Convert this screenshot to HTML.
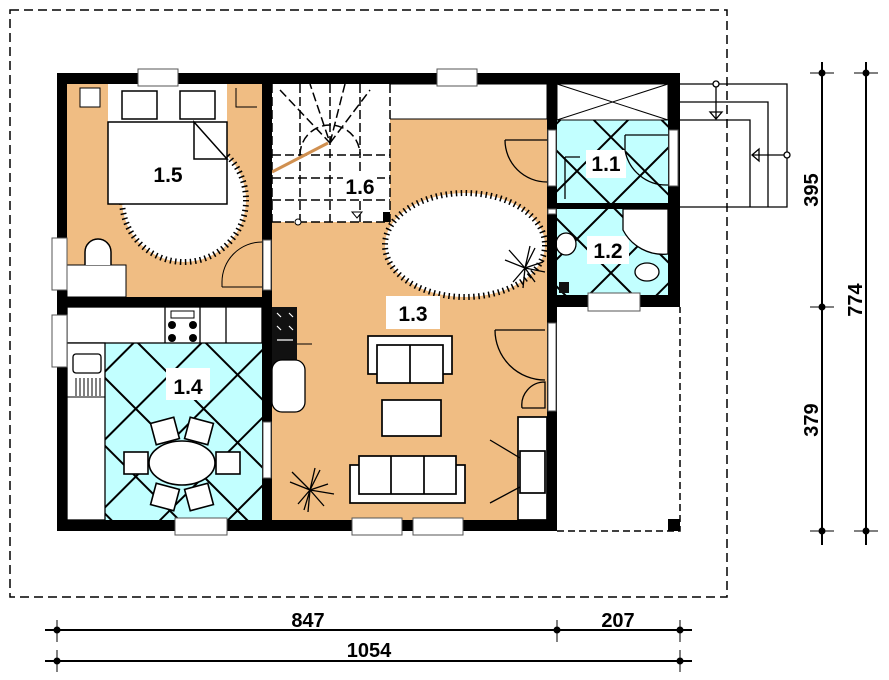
<!DOCTYPE html>
<html><head><meta charset="utf-8"><style>
html,body{margin:0;padding:0;background:#fff}
svg{display:block}
text{font-family:"Liberation Sans Narrow","Liberation Sans",sans-serif;font-weight:bold}
</style></head><body>
<svg width="889" height="680" viewBox="0 0 889 680" xmlns="http://www.w3.org/2000/svg">
<defs>
<pattern id="tile" patternUnits="userSpaceOnUse" width="48" height="48" patternTransform="rotate(45 0 0)">
<rect width="48" height="48" fill="#c2ffff"/>
<path d="M0 1H48M1 0V48" stroke="#000" stroke-width="2"/>
</pattern>
</defs>
<rect x="10" y="10" width="717" height="587" fill="none" stroke="#000" stroke-width="1.5" stroke-dasharray="9,5"/>
<rect x="67" y="84" width="195" height="213" fill="#f0bd83"/>
<rect x="272" y="84" width="275" height="437" fill="#f0bd83"/>
<rect x="272" y="84" width="275" height="35" fill="#fff" stroke="#000" stroke-width="1"/>
<rect x="272" y="84" width="118" height="138" fill="#fff"/>
<rect x="67" y="307" width="195" height="213" fill="#fff"/>
<rect x="105" y="343" width="157" height="177" fill="url(#tile)"/>
<rect x="557" y="120" width="111" height="83" fill="url(#tile)"/>
<rect x="557" y="209" width="111" height="86" fill="url(#tile)"/>
<rect x="557" y="84" width="111" height="36" fill="#fff" stroke="#000"/>
<path d="M557 84L668 120M668 84L557 120" stroke="#000"/>
<g stroke="#000" stroke-width="1.5" fill="none" stroke-dasharray="9,4">
<path d="M272 84V222M300 84V222M330 84V222M360 84V222M390 84V222"/>
<path d="M272 155H390M272 178H390M272 200H390M272 222H390"/>
<path d="M300 155A28 28 0 0 1 360 155"/>
<path d="M280 90L330 143L310 84M330 143L345 84M330 143L370 90"/>
</g>
<line x1="272" y1="172" x2="328" y2="143" stroke="#d09050" stroke-width="3"/>
<circle cx="298" cy="222" r="3" fill="#fff" stroke="#000"/>
<rect x="383" y="212" width="7" height="10" fill="#000"/>
<path d="M352 212h10l-5 6z" fill="none" stroke="#000"/>
<circle cx="184" cy="200" r="62" fill="#fff" stroke="#000" stroke-width="6" stroke-dasharray="1.5,3.5"/>
<circle cx="184" cy="200" r="59" fill="#fff"/>
<rect x="108" y="84" width="119" height="38" fill="#fff"/>
<rect x="122" y="91" width="35" height="28" fill="#fff" stroke="#000" stroke-width="1.5"/>
<rect x="180" y="91" width="35" height="28" fill="#fff" stroke="#000" stroke-width="1.5"/>
<rect x="108" y="122" width="119" height="82" fill="#fff" stroke="#000" stroke-width="1.5"/>
<path d="M194 122V159H227Z" fill="#fff" stroke="#000" stroke-width="1.5"/>
<rect x="80" y="88" width="20" height="19" fill="#fff" stroke="#000"/>
<path d="M236 88V107H257" fill="none" stroke="#000"/>
<rect x="67" y="265" width="59" height="32" fill="#fff" stroke="#000"/>
<path d="M85 265V252A13 13 0 0 1 111 252V265" fill="#fff" stroke="#000" stroke-width="1.5"/>
<path d="M222 287V282A40 40 0 0 1 262 242" fill="none" stroke="#000"/>
<line x1="222" y1="287" x2="262" y2="287" stroke="#000"/>
<rect x="146" y="162" width="44" height="24" fill="#fff"/>
<text x="168" y="182" font-size="21" text-anchor="middle">1.5</text>
<ellipse cx="465" cy="245" rx="80" ry="52" fill="#fff" stroke="#000" stroke-width="6" stroke-dasharray="1.5,3.5"/>
<ellipse cx="465" cy="245" rx="76" ry="48" fill="#fff"/>
<rect x="386" y="296" width="54" height="33" fill="#fff"/>
<text x="413" y="321" font-size="21" text-anchor="middle">1.3</text>
<g fill="#fff" stroke="#000" stroke-width="1.7">
<rect x="368" y="336" width="84" height="38"/>
<rect x="377" y="345" width="66" height="38"/>
<line x1="410" y1="345" x2="410" y2="383"/>
<rect x="382" y="400" width="59" height="36"/>
<rect x="350" y="465" width="115" height="38"/>
<rect x="359" y="456" width="97" height="38"/>
<line x1="391" y1="456" x2="391" y2="494"/><line x1="424" y1="456" x2="424" y2="494"/>
<rect x="518" y="417" width="29" height="103"/>
<rect x="520" y="451" width="25" height="42"/>
</g>
<path d="M490 440L520 458M490 503L520 487" stroke="#000" stroke-width="1.3"/>
<path d="M495 330H545M495 330A50 50 0 0 0 545 380M522 408H545V382A23 23 0 0 0 522 408" fill="none" stroke="#000" stroke-width="1.3"/>
<path d="M505 140H547M505 140A42 42 0 0 0 547 182" fill="none" stroke="#000" stroke-width="1.3"/>
<rect x="272" y="307" width="25" height="60" fill="#111"/>
<g stroke="#fff" stroke-width="1.2"><path d="M277 313l4 4M289 313l4 4M277 326l4 4M289 326l4 4M277 340h16"/></g>
<rect x="272" y="360" width="33" height="52" rx="10" fill="#fff" stroke="#000" stroke-width="1.3"/>
<line x1="297" y1="344" x2="312" y2="344" stroke="#000"/>
<g stroke="#000" stroke-width="1.3">
<path d="M310 490l-20-8M310 490l-12 14M310 490l5-22M310 490l18-6M310 490l24 4M310 490l-2 22M310 490l14 16M310 490l-18-18M310 490l10-20M310 490l-6 20"/>
<path d="M525 268l-20-8M525 268l-12 14M525 268l5-22M525 268l18-6M525 268l20 4M525 268l-2 20M525 268l10 14M525 268l-16-18M525 268l10-20"/>
</g>
<g fill="#fff" stroke="#000" stroke-width="1.3">
<rect x="67" y="307" width="195" height="36"/>
<line x1="165" y1="307" x2="165" y2="343"/><line x1="200" y1="307" x2="200" y2="343"/><line x1="226" y1="307" x2="226" y2="343"/>
<rect x="67" y="343" width="38" height="177"/>
<rect x="73" y="354" width="28" height="19" rx="3"/>
</g>
<path d="M76 378V396M80 378V396M84 378V396M88 378V396M92 378V396M96 378V396M100 378V396" stroke="#000"/>
<line x1="67" y1="397" x2="105" y2="397" stroke="#000"/>
<g fill="#000"><circle cx="172" cy="325" r="4"/><circle cx="193" cy="325" r="4"/><circle cx="172" cy="338" r="4"/><circle cx="193" cy="338" r="4"/></g>
<rect x="171" y="311" width="23" height="7" fill="#fff" stroke="#000"/>
<rect x="166" y="368" width="44" height="32" fill="#fff"/>
<text x="188" y="394" font-size="21" text-anchor="middle">1.4</text>
<g fill="#fff" stroke="#000" stroke-width="1.6">
<rect x="124" y="452" width="24" height="22"/><rect x="216" y="452" width="24" height="22"/>
<rect x="153" y="420" width="24" height="22" transform="rotate(-15 165 431)"/>
<rect x="187" y="420" width="24" height="22" transform="rotate(15 199 431)"/>
<rect x="153" y="486" width="24" height="22" transform="rotate(15 165 497)"/>
<rect x="187" y="486" width="24" height="22" transform="rotate(-15 199 497)"/>
<ellipse cx="182" cy="463" rx="33" ry="22"/>
</g>
<rect x="586" y="150" width="40" height="28" fill="#fff"/>
<text x="606" y="171" font-size="21" text-anchor="middle">1.1</text>
<rect x="587" y="236" width="42" height="28" fill="#fff"/>
<text x="608" y="258" font-size="21" text-anchor="middle">1.2</text>
<path d="M668 209H623V230A45 45 0 0 0 668 254Z" fill="#fff" stroke="#000" stroke-width="1.3"/>
<ellipse cx="566" cy="244" rx="10" ry="11" fill="#fff" stroke="#000" stroke-width="1.3"/>
<ellipse cx="647" cy="272" rx="12" ry="9" fill="#fff" stroke="#000" stroke-width="1.3"/>
<rect x="559" y="282" width="10" height="11" fill="#111"/>
<path d="M565 157V199M565 157H580" fill="none" stroke="#000" stroke-width="1.3"/>
<path d="M625 135H668M625 135V150A42 42 0 0 0 668 185" fill="none" stroke="#000" stroke-width="1.3"/>
<g fill="#000">
<rect x="57" y="73" width="623" height="11"/>
<rect x="57" y="73" width="10" height="458"/>
<rect x="57" y="520" width="500" height="11"/>
<rect x="262" y="84" width="10" height="447"/>
<rect x="57" y="297" width="215" height="10"/>
<rect x="547" y="84" width="10" height="447"/>
<rect x="668" y="73" width="12" height="234"/>
<rect x="557" y="295" width="123" height="12"/>
<rect x="557" y="203" width="111" height="6"/>
<rect x="668" y="519" width="12" height="12"/>
</g>
<path d="M557 531H680V307" fill="none" stroke="#000" stroke-width="1.5" stroke-dasharray="7,4"/>
<g fill="#fff" stroke="#555" stroke-width="1">
<rect x="138" y="69" width="40" height="17"/><rect x="437" y="69" width="40" height="17"/>
<rect x="175" y="518" width="52" height="17"/><rect x="352" y="518" width="50" height="17"/><rect x="413" y="518" width="50" height="17"/>
<rect x="588" y="293" width="52" height="18"/>
<rect x="52" y="238" width="15" height="52"/><rect x="52" y="315" width="15" height="52"/>
<rect x="263" y="240" width="8" height="50"/>
<rect x="263" y="422" width="8" height="56"/>
<rect x="548" y="130" width="8" height="56"/><rect x="669" y="130" width="9" height="56"/>
<rect x="548" y="323" width="8" height="88"/>
<rect x="548" y="209" width="8" height="5"/>
</g>
<g fill="none" stroke="#000" stroke-width="1.3">
<path d="M680 84H787V207H680M680 102H768V207M680 120H750V207"/>
<path d="M716 84V118M787 155H752"/>
<path d="M710 112h12l-6 7zM752 155l7-6v12z"/>
<circle cx="716" cy="84" r="3" fill="#fff"/><circle cx="787" cy="155" r="3" fill="#fff"/>
</g>
<g stroke="#000" stroke-width="2">
<path d="M822 62V545M866 62V545M45 630H692M45 661H692"/>
</g>
<g stroke="#000" stroke-width="1">
<path d="M810 73H834M810 307H834M810 531H834M854 73H878M854 531H878"/>
<path d="M57 620V642M557 620V642M680 620V642M57 650V672M680 650V672"/>
</g>
<g fill="#000">
<circle cx="822" cy="73" r="3.5"/><circle cx="822" cy="307" r="3.5"/><circle cx="822" cy="531" r="3.5"/>
<circle cx="866" cy="73" r="3.5"/><circle cx="866" cy="531" r="3.5"/>
<circle cx="57" cy="630" r="3.5"/><circle cx="557" cy="630" r="3.5"/><circle cx="680" cy="630" r="3.5"/>
<circle cx="57" cy="661" r="3.5"/><circle cx="680" cy="661" r="3.5"/>
</g>
<g font-size="20">
<text x="308" y="627" text-anchor="middle">847</text>
<text x="618" y="627" text-anchor="middle">207</text>
<text x="369" y="657" text-anchor="middle">1054</text>
<text transform="translate(818 190) rotate(-90)" text-anchor="middle">395</text>
<text transform="translate(818 420) rotate(-90)" text-anchor="middle">379</text>
<text transform="translate(862 300) rotate(-90)" text-anchor="middle">774</text>
</g>
<rect x="343" y="174" width="34" height="24" fill="#fff"/>
<text x="360" y="194" font-size="21" text-anchor="middle">1.6</text>
</svg>
</body></html>
